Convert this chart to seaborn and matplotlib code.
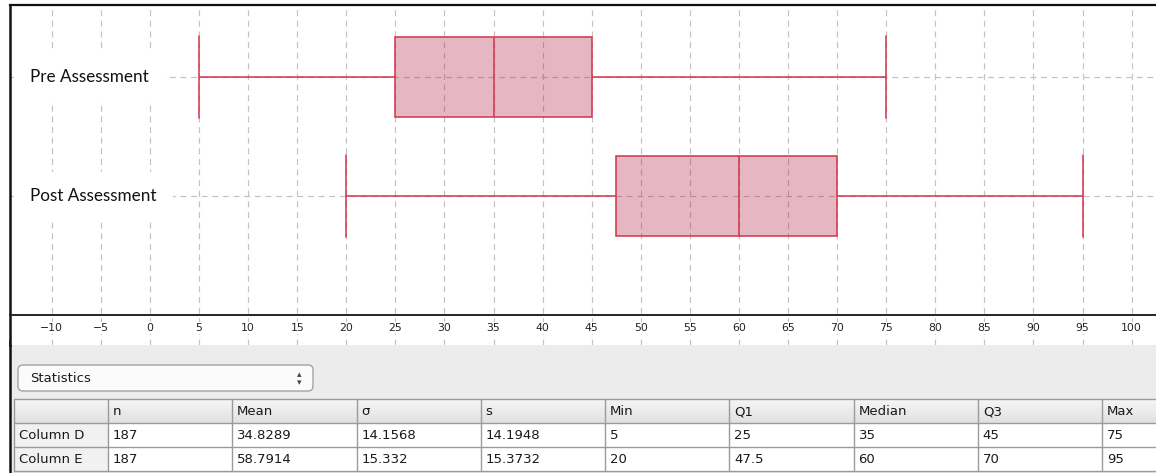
import numpy as np
import pandas as pd
import matplotlib
matplotlib.use("Agg")
import matplotlib.pyplot as plt
from matplotlib.patches import Rectangle, FancyBboxPatch
from matplotlib.transforms import blended_transform_factory
import seaborn as sns

# Five-number summaries (min, Q1, median, Q3, max) of each assessment
categories = ["Pre Assessment", "Post Assessment"]
pre_summary = [5, 25, 35, 45, 75]
post_summary = [20, 47.5, 60, 70, 95]

# Statistics panel values
row_labels = ["Column D", "Column E"]
stat_headers = ["n", "Mean", "σ", "s", "Min", "Q1", "Median", "Q3", "Max"]
stats_n = [187, 187]
stats_mean = [34.8289, 58.7914]
stats_sigma = [14.1568, 15.332]
stats_s = [14.1948, 15.3732]

x_ticks = np.arange(-10, 101, 5)

sns.set_style("white")
plt.rcParams["font.family"] = ["DejaVu Sans"]

W, H = 1156, 473
fig = plt.figure(figsize=(W / 100, H / 100), dpi=100)

# ---- box plot panel -------------------------------------------------------
ax = fig.add_axes([10 / W, 1 - 345 / H, (W - 10) / W, 340 / H])

# a five-point sample per group reproduces its summary exactly
df = pd.DataFrame({
    "group": np.repeat(categories, 5),
    "score": pre_summary + post_summary,
})

edge = "#d23a50"
face = (0.65, 0.03, 0.19, 0.29)

sns.boxplot(
    data=df, x="score", y="group", order=categories, orient="h",
    whis=(0, 100), width=0.672, saturation=1, color=edge, fill=True,
    linecolor=edge, linewidth=1.15, showfliers=False, capwidths=0.69,
    boxprops=dict(facecolor=face, edgecolor=edge, zorder=2),
    ax=ax,
)
for p in ax.patches:
    p.set_facecolor(face)

ax.set_xlim(-14.26, 102.48)
ax.set_ylim(2.252, -0.605)
ax.set_xticks(x_ticks)
ax.set_xlabel("")
ax.set_ylabel("")

grid_kw = dict(color="#c2c2c2", linestyle=(0, (5, 4)), linewidth=0.85)
ax.grid(axis="x", **grid_kw)
ax.grid(axis="y", **grid_kw)
ax.set_axisbelow(True)

ax.tick_params(axis="y", left=False, labelleft=False)
ax.tick_params(axis="x", direction="inout", length=9, width=1.0,
               color="#333333", labelsize=7.8, labelcolor="#222222", pad=1.5)

ax.spines["right"].set_visible(False)
ax.spines["top"].set_linewidth(1.6)
ax.spines["top"].set_color("#111111")
ax.spines["left"].set_linewidth(1.8)
ax.spines["left"].set_color("#111111")
ax.spines["bottom"].set_position(("axes", 30 / 340))
ax.spines["bottom"].set_linewidth(1.4)
ax.spines["bottom"].set_color("#222222")

for lab in ax.get_xticklabels():
    lab.set_bbox(dict(facecolor="white", edgecolor="none", pad=0.8))

label_tr = blended_transform_factory(ax.transAxes, ax.transData)
for i, cat in enumerate(categories):
    ax.text(20 / (W - 10), i, cat, transform=label_tr, ha="left", va="center",
            fontsize=12.3, family=["Lato", "DejaVu Sans"], color="#111111",
            bbox=dict(boxstyle="square,pad=0.95", facecolor="white",
                      edgecolor="none"),
            zorder=3)

# ---- statistics panel -----------------------------------------------------
ui = fig.add_axes([0, 0, 1, 1])
ui.set_zorder(-1)
ui.set_xlim(0, W)
ui.set_ylim(H, 0)
ui.axis("off")

ui.add_patch(Rectangle((10, 345), W - 10, H - 345, facecolor="#ececec",
                       edgecolor="none", zorder=1))
ui.plot([10, 10], [340, H], color="#111111", lw=1.8, solid_capstyle="butt",
        zorder=4)

# selector
ui.add_patch(FancyBboxPatch((18, 365), 295, 26,
                            boxstyle="round,pad=0,rounding_size=5",
                            facecolor="#fbfbfb", edgecolor="#9c9c9c", lw=0.9,
                            zorder=2))
ui.text(30, 378.5, "Statistics", ha="left", va="center", fontsize=9.5,
        color="#1a1a1a", zorder=3)
ui.text(299, 374.5, "▴", ha="center", va="center", fontsize=6.5,
        color="#444444", zorder=3)
ui.text(299, 382.5, "▾", ha="center", va="center", fontsize=6.5,
        color="#444444", zorder=3)

# table
row_edges = [399, 423, 447, 471]
col_edges = [14] + [108 + 124.25 * k for k in range(11)]
grad = np.linspace(0, 1, 32).reshape(-1, 1)
ui.imshow(grad, cmap=matplotlib.colors.LinearSegmentedColormap.from_list(
    "hdr", ["#f6f6f6", "#e1e1e1"]), aspect="auto",
    extent=(14, W, row_edges[1], row_edges[0]), zorder=2)
ui.set_xlim(0, W)
ui.set_ylim(H, 0)
ui.add_patch(Rectangle((14, row_edges[1]), 108 - 14, row_edges[3] - row_edges[1],
                       facecolor="#f1f1f1", edgecolor="none", zorder=2))
ui.add_patch(Rectangle((108, row_edges[1]), W - 108, row_edges[3] - row_edges[1],
                       facecolor="white", edgecolor="none", zorder=2))

line_c = "#9a9a9a"
for y in row_edges:
    ui.plot([14, W], [y, y], color=line_c, lw=1.0, zorder=3)
for x in col_edges:
    if x < W:
        ui.plot([x, x], [row_edges[0], row_edges[-1]], color=line_c, lw=1.0,
                zorder=3)

summaries = [pre_summary, post_summary]
for j, head in enumerate(stat_headers):
    ui.text(col_edges[j + 1] + 5, (row_edges[0] + row_edges[1]) / 2 + 0.5, head,
            ha="left", va="center", fontsize=9.5, color="#1a1a1a", zorder=4)
for r, name in enumerate(row_labels):
    yc = (row_edges[r + 1] + row_edges[r + 2]) / 2 + 0.5
    ui.text(19, yc, name, ha="left", va="center", fontsize=9.5,
            color="#1a1a1a", zorder=4)
    values = [stats_n[r], stats_mean[r], stats_sigma[r], stats_s[r]] + summaries[r]
    for j, v in enumerate(values):
        ui.text(col_edges[j + 1] + 5, yc, f"{v:g}", ha="left", va="center",
                fontsize=9.5, color="#1a1a1a", zorder=4)

fig.savefig("out.png", dpi=100)
